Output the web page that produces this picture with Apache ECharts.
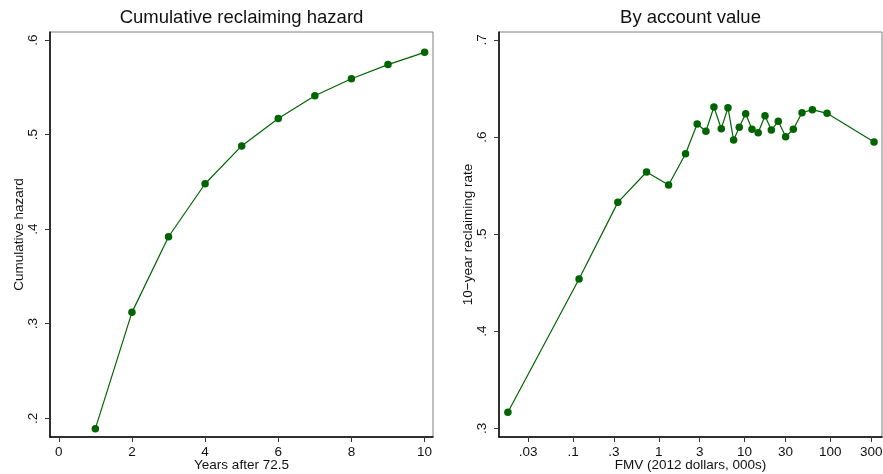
<!DOCTYPE html>
<html>
<head>
<meta charset="utf-8">
<script src="https://cdn.jsdelivr.net/npm/echarts@6/dist/echarts.min.js"></script>
<style>
  html, body { margin: 0; padding: 0; background: #fff; }
  #chart { width: 883px; height: 474px; }
</style>
</head>
<body>
<div id="chart"></div>
<script>
// left panel: cumulative hazard by year
var years = [1, 2, 3, 4, 5, 6, 7, 8, 9, 10];
var hazard = [0.189, 0.312, 0.392, 0.448, 0.488, 0.517, 0.541, 0.559, 0.574, 0.587];
var yearTicks = [0, 2, 4, 6, 8, 10];
var hazardTicks = [0.2, 0.3, 0.4, 0.5, 0.6];

// right panel: 10-year reclaiming rate by FMV (000s)
var fmv = [0.0174, 0.1175, 0.333, 0.72, 1.30, 2.05, 2.80, 3.54, 4.39, 5.35, 6.40, 7.45, 8.67,
           10.3, 12.2, 14.4, 17.3, 20.5, 24.7, 30.1, 37.0, 46.7, 61.7, 91.5, 323];
var rate = [0.3165, 0.4538, 0.5327, 0.564, 0.5506, 0.5828, 0.6134, 0.6059, 0.6309, 0.6086, 0.6302, 0.5969, 0.610,
            0.624, 0.608, 0.6044, 0.622, 0.6072, 0.6162, 0.6003, 0.608, 0.625, 0.6282, 0.6244, 0.5949];
var fmvTicks = [0.03, 0.1, 0.3, 1, 3, 10, 30, 100, 300];
var fmvTickLabels = ['.03', '.1', '.3', '1', '3', '10', '30', '100', '300'];
var rateTicks = [0.3, 0.4, 0.5, 0.6, 0.7];

var GREEN = '#006400';
var FONT = '"Liberation Sans", Arial, sans-serif';
var fmvMin = 0.0137, fmvMax = 400;

function decimalLabel(v) {
    return v.toFixed(1).replace(/^0/, '');
}

function zip(a, b) {
    var out = [];
    for (var i = 0; i < a.length; i++) out.push([a[i], b[i]]);
    return out;
}

var axisLine = { show: true, onZero: false, lineStyle: { color: '#000', width: 1.5 } };
var tick = { show: true, length: 5, inside: false, lineStyle: { color: '#333', width: 1 } };
var labelStyle = { color: '#111', fontSize: 13.5, fontFamily: FONT };
var nameStyle = { color: '#111', fontSize: 13.5, fontFamily: FONT };

var chart = echarts.init(document.getElementById('chart'));

var option = {
    animation: false,
    backgroundColor: '#fff',
    title: [
        { text: 'Cumulative reclaiming hazard', left: 241.5, top: 8, textAlign: 'center', padding: 0,
          textStyle: { fontSize: 18.5, fontWeight: 'normal', color: '#111', fontFamily: FONT } },
        { text: 'By account value', left: 690.5, top: 8, textAlign: 'center', padding: 0,
          textStyle: { fontSize: 18.5, fontWeight: 'normal', color: '#111', fontFamily: FONT } }
    ],
    grid: [
        { left: 50, top: 32, width: 383, height: 405, outerBoundsMode: 'none', containLabel: false,
          show: true, borderColor: '#808080', borderWidth: 1 },
        { left: 499, top: 32, width: 383, height: 405, outerBoundsMode: 'none', containLabel: false,
          show: true, borderColor: '#808080', borderWidth: 1 }
    ],
    xAxis: [
        {
            type: 'value', gridIndex: 0, position: 'bottom', min: -0.24, max: 10.23,
            name: 'Years after 72.5', nameLocation: 'middle', nameGap: 21, nameMoveOverlap: false,
            nameTextStyle: nameStyle,
            axisLine: axisLine,
            axisTick: Object.assign({ customValues: yearTicks }, tick),
            axisLabel: Object.assign({ customValues: yearTicks, margin: 8 }, labelStyle),
            splitLine: { show: false }
        },
        {
            type: 'log', logBase: 10, gridIndex: 1, position: 'bottom', min: fmvMin, max: fmvMax,
            axisLine: axisLine,
            axisTick: { show: false },
            axisLabel: { show: false },
            splitLine: { show: false }
        },
        {
            type: 'value', gridIndex: 1, position: 'bottom', offset: 0,
            min: Math.log10(fmvMin), max: Math.log10(fmvMax),
            name: 'FMV (2012 dollars, 000s)', nameLocation: 'middle', nameGap: 21, nameMoveOverlap: false,
            nameTextStyle: nameStyle,
            axisLine: { show: false, onZero: false },
            axisTick: Object.assign({ customValues: fmvTicks.map(Math.log10) }, tick),
            axisLabel: Object.assign({
                customValues: fmvTicks.map(Math.log10), margin: 8,
                formatter: function (v) {
                    for (var i = 0; i < fmvTicks.length; i++) {
                        if (Math.abs(Math.log10(fmvTicks[i]) - v) < 1e-6) return fmvTickLabels[i];
                    }
                    return '';
                }
            }, labelStyle),
            splitLine: { show: false }
        }
    ],
    yAxis: [
        {
            type: 'value', gridIndex: 0, position: 'left', min: 0.1802, max: 0.6085,
            name: 'Cumulative hazard', nameLocation: 'middle', nameGap: 24, nameMoveOverlap: false,
            nameTextStyle: nameStyle,
            axisLine: axisLine,
            axisTick: Object.assign({ customValues: hazardTicks }, tick),
            axisLabel: Object.assign({ customValues: hazardTicks, rotate: 90, margin: 10, formatter: decimalLabel }, labelStyle),
            splitLine: { show: false }
        },
        {
            type: 'value', gridIndex: 1, position: 'left', min: 0.291, max: 0.7082,
            name: '10\u2212year reclaiming rate', nameLocation: 'middle', nameGap: 24, nameMoveOverlap: false,
            nameTextStyle: nameStyle,
            axisLine: axisLine,
            axisTick: Object.assign({ customValues: rateTicks }, tick),
            axisLabel: Object.assign({ customValues: rateTicks, rotate: 90, margin: 10, formatter: decimalLabel }, labelStyle),
            splitLine: { show: false }
        }
    ],
    series: [
        {
            type: 'line', xAxisIndex: 0, yAxisIndex: 0,
            data: zip(years, hazard),
            symbol: 'circle', symbolSize: 7.5,
            itemStyle: { color: GREEN },
            lineStyle: { color: GREEN, width: 1.2 }
        },
        {
            type: 'line', xAxisIndex: 1, yAxisIndex: 1,
            data: zip(fmv, rate),
            symbol: 'circle', symbolSize: 7.5,
            itemStyle: { color: GREEN },
            lineStyle: { color: GREEN, width: 1.2 }
        }
    ]
};

chart.setOption(option);
</script>
</body>
</html>
